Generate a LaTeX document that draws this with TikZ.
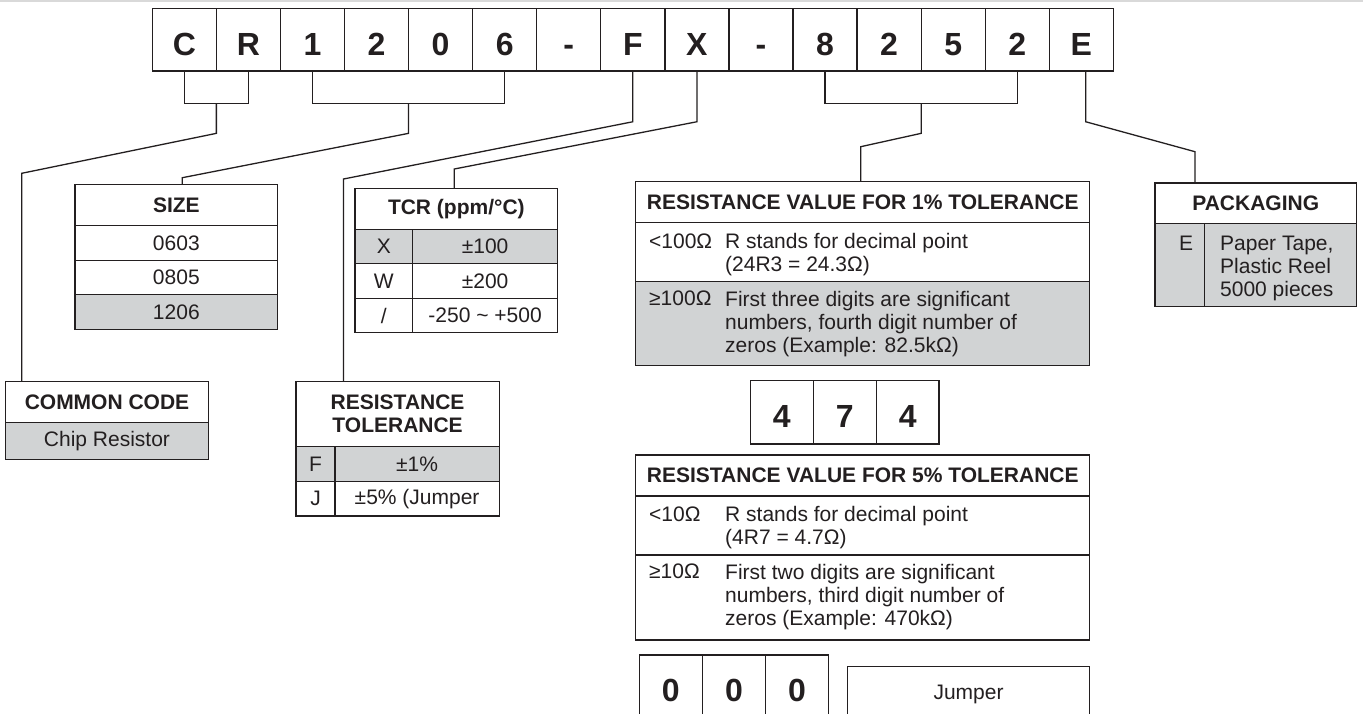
\documentclass[tikz,border=0pt]{standalone}
\usepackage{fontspec}
\setmainfont{Liberation Sans}
\usetikzlibrary{positioning}
\definecolor{ink}{HTML}{231F20}
\definecolor{tabgray}{HTML}{D1D3D4}
\definecolor{topline}{HTML}{D9D9D9}
\newcommand\bdfont{\fontsize{21}{23}\selectfont}
\newcommand\hdfont{\fontsize{21}{23}\selectfont\bfseries}
\newcommand\digfont{\fontsize{32}{36}\selectfont\bfseries}

\begin{document}
\begin{tikzpicture}[x=1pt,y=-1pt,
  conn/.style={draw=ink,line width=1.3pt},
  cellbox/.style={draw=ink,line width=1.3pt,inner sep=0pt,outer sep=0pt,text=ink,font=\bdfont},
  hdbox/.style={cellbox,font=\hdfont},
  grayrow/.style={fill=tabgray},
  digit/.style={cellbox,font=\digfont,text height=30.6pt,text depth=0pt,minimum width=64.07pt,minimum height=62.7pt},
  txt/.style={inner sep=0pt,text=ink,font=\bdfont,align=left,anchor=north west}]
\clip (0,0) rectangle (1363,713);
\fill[white] (0,0) rectangle (1363,713);
\fill[topline] (0,0) rectangle (1363,1.5);

\foreach \ltr [count=\i] in {C,R,1,2,0,6,-,F,X,-,8,2,5,2,E}
  \node[digit] (d\i) at ({152.3+64.07*(\i-0.5)},39.7) {\ltr};

\node[hdbox,minimum width=202.8pt,minimum height=40.8pt,anchor=north west] (code) at (5.6,381.7) {COMMON CODE};
\node[cellbox,grayrow,minimum width=202.8pt,minimum height=36.7pt,below=0pt of code] (code1) {Chip Resistor};

\node[hdbox,minimum width=202.7pt,minimum height=41.2pt,anchor=north west] (size) at (75,184.5) {SIZE};
\node[cellbox,minimum width=202.7pt,minimum height=34.5pt,below=0pt of size] (size1) {0603};
\node[cellbox,minimum width=202.7pt,minimum height=34.5pt,below=0pt of size1] (size2) {0805};
\node[cellbox,grayrow,minimum width=202.7pt,minimum height=34.5pt,below=0pt of size2] (size3) {1206};

\node[hdbox,minimum width=202.7pt,minimum height=40.6pt,anchor=north west] (tcr) at (355,188.7) {TCR (ppm/°C)};
\node[cellbox,grayrow,minimum width=57.5pt,minimum height=34.5pt,anchor=north west] (tcr1a) at (tcr.south west) {X};
\node[cellbox,grayrow,minimum width=145.2pt,minimum height=34.5pt,anchor=north west] (tcr1b) at (tcr1a.north east) {±100};
\node[cellbox,minimum width=57.5pt,minimum height=34.5pt,anchor=north west] (tcr2a) at (tcr1a.south west) {W};
\node[cellbox,minimum width=145.2pt,minimum height=34.5pt,anchor=north west] (tcr2b) at (tcr2a.north east) {±200};
\node[cellbox,minimum width=57.5pt,minimum height=34.5pt,anchor=north west] (tcr3a) at (tcr2a.south west) {/};
\node[cellbox,minimum width=145.2pt,minimum height=34.5pt,anchor=north west] (tcr3b) at (tcr3a.north east) {-250 \textasciitilde{} +500};

\node[hdbox,align=center,minimum width=203.2pt,minimum height=65pt,anchor=north west] (tol) at (296,381.7) {RESISTANCE\\TOLERANCE};
\node[cellbox,grayrow,minimum width=39pt,minimum height=34.7pt,anchor=north west] (tol1a) at (tol.south west) {F};
\node[cellbox,grayrow,minimum width=164.2pt,minimum height=34.7pt,anchor=north west] (tol1b) at (tol1a.north east) {±1\%};
\node[cellbox,minimum width=39pt,minimum height=34.7pt,anchor=north west] (tol2a) at (tol1a.south west) {J};
\node[cellbox,minimum width=164.2pt,minimum height=34.7pt,anchor=north west] (tol2b) at (tol2a.north east) {±5\% (Jumper};

\node[hdbox,minimum width=454pt,minimum height=41pt,anchor=north west] (val1) at (635.8,181.7) {RESISTANCE VALUE FOR 1\% TOLERANCE};
\node[cellbox,minimum width=454pt,minimum height=59pt,below=0pt of val1] (val1a) {};
\node[cellbox,grayrow,minimum width=454pt,minimum height=84pt,below=0pt of val1a] (val1b) {};
\node[txt] (v1al) at (649,233.2) {<100Ω};
\node[txt] (v1at) at (725,233.2) {R stands for decimal point\\(24R3 = 24.3Ω)};
\node[txt] (v1bl) at (649,290.8) {≥100Ω};
\node[txt] (v1bt) at (725,290.8) {First three digits are significant\\numbers, fourth digit number of\\zeros (Example: 82.5kΩ)};

\foreach \ltr [count=\i] in {4,7,4}
  \node[digit,minimum width=62.9pt,minimum height=63.3pt] (m\i) at ({750.4+62.9*(\i-0.5)},412.35) {\ltr};

\node[hdbox,minimum width=454pt,minimum height=41pt,anchor=north west] (val5) at (635.8,455) {RESISTANCE VALUE FOR 5\% TOLERANCE};
\node[cellbox,minimum width=454pt,minimum height=59pt,below=0pt of val5] (val5a) {};
\node[cellbox,minimum width=454pt,minimum height=85pt,below=0pt of val5a] (val5b) {};
\node[txt] (v5al) at (649,506.5) {<10Ω};
\node[txt] (v5at) at (725,506.5) {R stands for decimal point\\(4R7 = 4.7Ω)};
\node[txt] (v5bl) at (649,564.1) {≥10Ω};
\node[txt] (v5bt) at (725,564.1) {First two digits are significant\\numbers, third digit number of\\zeros (Example: 470kΩ)};

\foreach \i in {1,2,3}
  \node[digit,minimum width=63.1pt,minimum height=63.3pt] (z\i) at ({639.3+63.1*(\i-0.5)},686.65) {0};
\node[cellbox,minimum width=242.5pt,minimum height=56pt,anchor=north west] (jmp) at (847.3,666.7) {Jumper};

\node[hdbox,minimum width=201.5pt,minimum height=40.3pt,anchor=north west] (pack) at (1155,183) {PACKAGING};
\node[cellbox,grayrow,minimum width=49.7pt,minimum height=83.4pt,anchor=north west] (packa) at (pack.south west) {};
\node[cellbox,grayrow,minimum width=151.8pt,minimum height=83.4pt,anchor=north west] (packb) at (packa.north east) {};
\node[txt,anchor=north] (pe) at (1186,235.8) {E};
\node[txt] (pt) at (1220,235.8) {Paper Tape,\\Plastic Reel\\5000 pieces};

\draw[conn] (d1.south) -- ++(0,32.3) -| (d2.south);
\coordinate (k1) at (21.7,173.3);
\draw[conn] (d1.south east) ++(0,32.3) -- ++(0,30) -- (k1) -- (k1 |- code.north);
\draw[conn] (d3.south) -- ++(0,32.3) -| (d6.south);
\coordinate (k2) at (182.3,177.7);
\draw[conn] (d4.south east) ++(0,32.3) -- ++(0,30) -- (k2) -- (k2 |- size.north);
\coordinate (k3) at (343.5,179);
\draw[conn] (d8.south) -- ++(0,50.7) -- (k3) -- (k3 |- tol.north);
\coordinate (k4) at (454.3,169);
\draw[conn] (d9.south) -- ++(0,50.7) -- (k4) -- (k4 |- tcr.north);
\draw[conn] (d11.south) -- ++(0,32.3) -| (d14.south);
\coordinate (k5) at (860.7,146.7);
\draw[conn] (d12.south east) ++(0,32.3) -- ++(0,30) -- (k5) -- (k5 |- val1.north);
\coordinate (k6) at (1195,151.7);
\draw[conn] ([xshift=4.4pt]d15.south) -- ++(0,50.7) -- (k6) -- (k6 |- pack.north);
\end{tikzpicture}
\end{document}
